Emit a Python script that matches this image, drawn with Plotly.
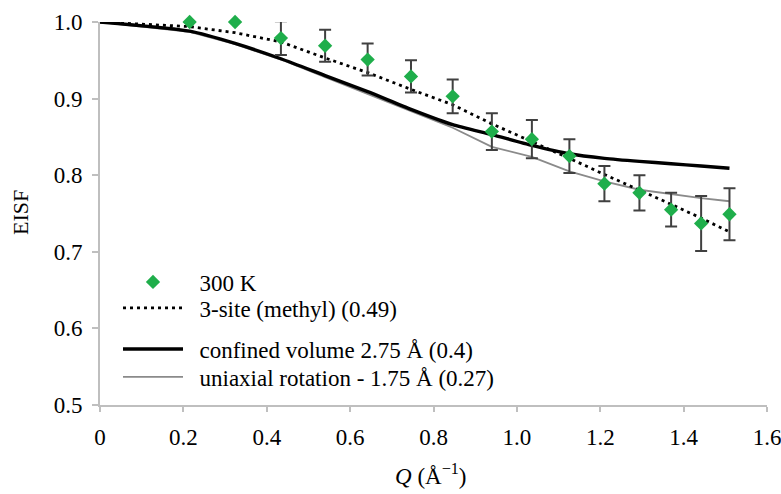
import plotly.graph_objects as go

# Data points (300 K)
q_data = [0.215, 0.324, 0.434, 0.54, 0.642, 0.746, 0.846, 0.94, 1.036, 1.126, 1.21, 1.294, 1.37, 1.442, 1.51]
eisf_data = [1.0, 1.0, 0.979, 0.969, 0.951, 0.929, 0.903, 0.857, 0.847, 0.825, 0.789, 0.777, 0.755, 0.737, 0.749]
eisf_err = [0, 0, 0.022, 0.021, 0.021, 0.021, 0.022, 0.024, 0.025, 0.022, 0.023, 0.023, 0.022, 0.036, 0.034]

# Model curves
q_model = [0.0, 0.215, 0.324, 0.434, 0.54, 0.642, 0.746, 0.846, 0.94, 1.036, 1.126, 1.21, 1.294, 1.37, 1.442, 1.51]
three_site = [1.0, 0.994, 0.986, 0.974, 0.953, 0.934, 0.912, 0.892, 0.867, 0.844, 0.822, 0.801, 0.781, 0.762, 0.744, 0.726]
confined = [1.0, 0.988, 0.972, 0.952, 0.930, 0.909, 0.886, 0.866, 0.853, 0.839, 0.828, 0.822, 0.818, 0.815, 0.812, 0.809]
uniaxial = [1.0, 0.987, 0.971, 0.951, 0.928, 0.906, 0.883, 0.862, 0.837, 0.824, 0.805, 0.792, 0.781, 0.775, 0.770, 0.766]

x_ticks = [0, 0.2, 0.4, 0.6, 0.8, 1.0, 1.2, 1.4, 1.6]
x_tick_labels = ["0", "0.2", "0.4", "0.6", "0.8", "1.0", "1.2", "1.4", "1.6"]
y_ticks = [0.5, 0.6, 0.7, 0.8, 0.9, 1.0]
y_tick_labels = ["0.5", "0.6", "0.7", "0.8", "0.9", "1.0"]

FONT = "Liberation Serif, Times New Roman, serif"
FS = 23
OFF = 0  # body margin removed by post_script
W, H = 781, 494
ML, MT = 100, 22
MR = W - 767
MB = H - 405
PW, PH = W - ML - MR, H - MT - MB


def px2paper(xp, yp):
    xf, yf = xp - OFF, yp - OFF
    return (xf - ML) / PW, (H - MB - yf) / PH


NB = "\u00a0\u00a0"

fig = go.Figure()

fig.add_trace(go.Scatter(
    x=q_model, y=uniaxial, mode="lines",
    line=dict(color="#8a8a8a", width=1.8),
    name=NB + "uniaxial rotation - 1.75 Å (0.27)", legend="legend4"))
fig.add_trace(go.Scatter(
    x=q_model, y=confined, mode="lines",
    line=dict(color="#000000", width=3.4, shape="spline", smoothing=0.6),
    name=NB + "confined volume 2.75 Å (0.4)", legend="legend3"))
fig.add_trace(go.Scatter(
    x=q_model, y=three_site, mode="lines",
    line=dict(color="#000000", width=2.8, dash="3px,4px"),
    name=NB + "3-site (methyl) (0.49)", legend="legend2"))
fig.add_trace(go.Scatter(
    x=q_data, y=eisf_data, mode="markers",
    marker=dict(symbol="diamond", size=11, color="#1fae4b"),
    error_y=dict(type="data", array=eisf_err, visible=True,
                 color="#404040", thickness=2, width=6),
    cliponaxis=False,
    name=NB + "300 K", legend="legend"))

leg_common = dict(font=dict(family=FONT, size=FS, color="#000000"),
                  bgcolor="rgba(0,0,0,0)", itemwidth=60,
                  xanchor="left", yanchor="middle", borderwidth=0)
lx, _ = px2paper(118, 0)
legs = {}
for key, yp in [("legend", 282), ("legend2", 308), ("legend3", 349), ("legend4", 377)]:
    _, ly = px2paper(0, yp)
    legs[key] = dict(leg_common, x=lx, y=ly)

xt_x, xt_y = px2paper(430, 474)
yt_x, yt_y = px2paper(20, 213)

axis_line = "#bfbfbf"
fig.update_layout(
    width=W, height=H,
    margin=dict(l=ML, r=MR, t=MT, b=MB, autoexpand=False),
    paper_bgcolor="white", plot_bgcolor="white",
    font=dict(family=FONT, size=FS, color="#000000"),
    showlegend=True,
    **legs,
    xaxis=dict(range=[0, 1.6], tickvals=x_ticks, ticktext=x_tick_labels,
               automargin=False, ticklabeloverflow="allow",
               showgrid=False, zeroline=False, showline=True,
               linecolor=axis_line, linewidth=2,
               ticks="outside", ticklen=5, tickwidth=1.5, tickcolor=axis_line,
               ticklabelstandoff=5,
               tickfont=dict(family=FONT, size=FS)),
    yaxis=dict(range=[0.5, 1.0], tickvals=y_ticks, ticktext=y_tick_labels,
               automargin=False, ticklabeloverflow="allow",
               showgrid=False, zeroline=False, showline=True,
               linecolor=axis_line, linewidth=2,
               ticks="outside", ticklen=6, tickwidth=1.5, tickcolor=axis_line,
               ticklabelstandoff=5,
               tickfont=dict(family=FONT, size=FS)),
    annotations=[
        dict(text="<i>Q</i> (Å<sup>−1</sup>)", xref="paper", yref="paper",
             x=xt_x, y=xt_y, yanchor="middle", xanchor="center",
             showarrow=False, font=dict(family=FONT, size=FS)),
        dict(text="EISF", xref="paper", yref="paper",
             x=yt_x, y=yt_y, xanchor="center", yanchor="middle",
             textangle=-90, showarrow=False, font=dict(family=FONT, size=FS - 1)),
    ],
)

fig.write_html(
    "out.html",
    config={"responsive": False, "displayModeBar": False},
    post_script="document.body.style.margin='0px';document.body.style.overflow='hidden';",
)
